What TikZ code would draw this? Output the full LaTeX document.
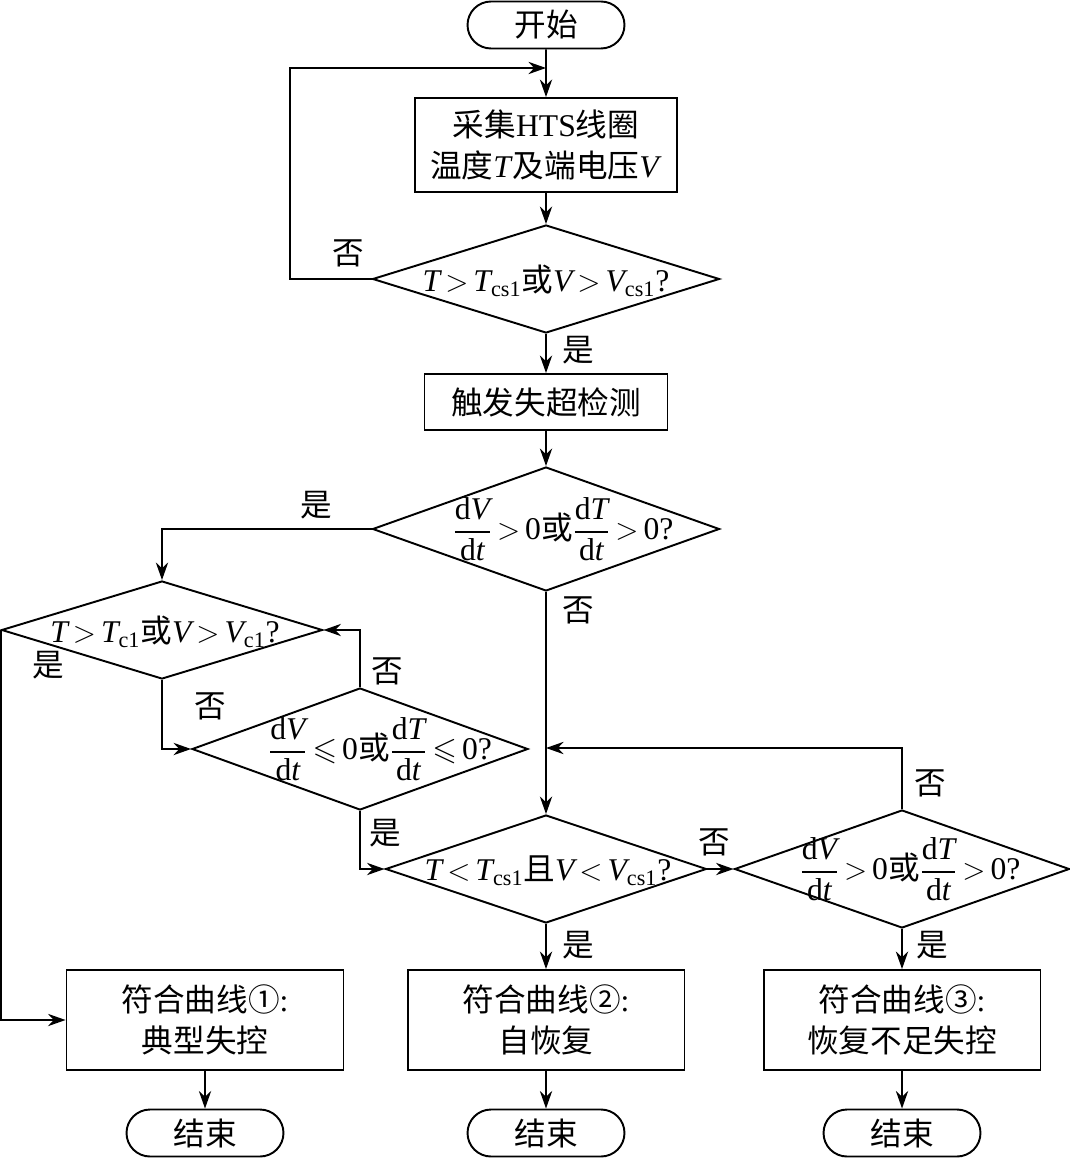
\documentclass[tikz,border=0pt]{standalone}
\usepackage{amsmath}
\usepackage{amssymb}
\usepackage{fontspec}
\setmainfont{Liberation Serif}
\setmathrm{Liberation Serif}
\newfontfamily\cjk{Noto Sans CJK SC}
\usetikzlibrary{shapes.geometric, shapes.misc, arrows.meta}

\newcommand{\ivar}[1]{\textrm{\itshape #1}}
\newcommand{\gtr}{\mskip-2mu>\mskip-2mu}
\newcommand{\lss}{\mskip-2mu<\mskip-2mu}

\begin{document}
\begin{tikzpicture}[x=0.02cm, y=-0.02cm, line width=1.1pt, >={Stealth[length=10pt,width=7pt]}]

        % Define styles
        \tikzstyle{terminal} = [rounded rectangle, draw, minimum width=3.14cm, minimum height=0.94cm, inner sep=0pt, font=\cjk\fontsize{18}{22}\selectfont]
        \tikzstyle{block} = [rectangle, draw, align=center, inner sep=0pt, font=\cjk\fontsize{18}{23}\selectfont]
        \tikzstyle{decision} = [diamond, draw, inner sep=0pt]
        \tikzstyle{cond} = [inner sep=0pt, font=\cjk\fontsize{18}{22}\selectfont]
        \tikzstyle{tag} = [inner sep=0pt, font=\cjk\fontsize{18}{22}\selectfont]
        \tikzstyle{line} = [draw, ->]

        \useasboundingbox (0,0) rectangle (1070,1158);

        % Place nodes
        \node [terminal] (start) at (546,25) {开始};
        \node [block, minimum width=5.24cm, minimum height=1.88cm] (collect) at (546,145)
            {采集\textrm{HTS}线圈\\温度\ivar{T}及端电压\ivar{V}};
        \node [decision, minimum width=6.94cm, minimum height=2.16cm] (over) at (546,279) {};
        \node [cond] (overtext) at (546,281)
            {$\ivar{T}\gtr\ivar{T}_{\mathrm{cs1}}$或$\ivar{V}\gtr\ivar{V}_{\mathrm{cs1}}$\textrm{?}};
        \node [block, minimum width=4.86cm, minimum height=1.12cm] (detect) at (546,402) {触发失超检测};
        \node [decision, minimum width=6.94cm, minimum height=2.48cm] (rise) at (546,529) {};
        \node [cond] (risetext) at (563,529)
            {$\dfrac{\mathrm{d}\ivar{V}}{\mathrm{d}\ivar{t}}\gtr\textrm{0}$或$\dfrac{\mathrm{d}\ivar{T}}{\mathrm{d}\ivar{t}}\gtr\textrm{0}$\textrm{?}};

        \node [decision, minimum width=6.42cm, minimum height=1.96cm] (crit) at (162,630) {};
        \node [cond] (crittext) at (165,632)
            {$\ivar{T}\gtr\ivar{T}_{\mathrm{c1}}$或$\ivar{V}\gtr\ivar{V}_{\mathrm{c1}}$\textrm{?}};
        \node [decision, minimum width=6.72cm, minimum height=2.44cm] (fall) at (360,749) {};
        \node [cond] (falltext) at (380,749)
            {$\dfrac{\mathrm{d}\ivar{V}}{\mathrm{d}\ivar{t}}\mskip-2mu\leqslant\mskip-2mu\textrm{0}$或$\dfrac{\mathrm{d}\ivar{T}}{\mathrm{d}\ivar{t}}\mskip-2mu\leqslant\mskip-2mu\textrm{0}$\textrm{?}};

        \node [decision, minimum width=6.42cm, minimum height=2.16cm] (back) at (546,869) {};
        \node [cond] (backtext) at (548,871)
            {$\ivar{T}\lss\ivar{T}_{\mathrm{cs1}}$且$\ivar{V}\lss\ivar{V}_{\mathrm{cs1}}$\textrm{?}};
        \node [decision, minimum width=6.7cm, minimum height=2.36cm] (again) at (902,869) {};
        \node [cond] (againtext) at (910,869)
            {$\dfrac{\mathrm{d}\ivar{V}}{\mathrm{d}\ivar{t}}\gtr\textrm{0}$或$\dfrac{\mathrm{d}\ivar{T}}{\mathrm{d}\ivar{t}}\gtr\textrm{0}$\textrm{?}};

        \node [block, minimum width=5.54cm, minimum height=2cm] (curve1) at (205,1020) {符合曲线①\textrm{:}\\典型失控};
        \node [block, minimum width=5.54cm, minimum height=2cm] (curve2) at (546,1020) {符合曲线②\textrm{:}\\自恢复};
        \node [block, minimum width=5.54cm, minimum height=2cm] (curve3) at (902,1020) {符合曲线③\textrm{:}\\恢复不足失控};
        \node [terminal] (end1) at (205,1133) {结束};
        \node [terminal] (end2) at (546,1133) {结束};
        \node [terminal] (end3) at (902,1133) {结束};

        \coordinate (loopin) at (546,68);
        \coordinate (join) at (546,748);

        % Yes / no tags
        \node [tag] (overno) at (348,253) {否};
        \node [tag] (overyes) at (578,350) {是};
        \node [tag] (riseyes) at (316,505) {是};
        \node [tag] (riseno) at (578,610) {否};
        \node [tag] (crityes) at (48,665) {是};
        \node [tag] (critno) at (210,706) {否};
        \node [tag] (fallno) at (387,671) {否};
        \node [tag] (fallyes) at (385,833) {是};
        \node [tag] (backno) at (714,842) {否};
        \node [tag] (againno) at (930,783) {否};
        \node [tag] (backyes) at (578,945) {是};
        \node [tag] (againyes) at (932,945) {是};

        % Draw edges
        \path [line] (start) -- (collect);
        \path [line] (over.west) -- ++(-82,0) |- (loopin);
        \path [line] (collect) -- (over);
        \path [line] (over) -- (detect);
        \path [line] (detect) -- (rise);
        \path [line] (rise.west) -| (crit.north);
        \path [line] (rise.south) -- (back.north);
        \path [line] (crit.west) |- (curve1.west);
        \path [line] (crit.south) |- (fall.west);
        \path [line] (fall.north) |- (crit.east);
        \path [line] (fall.south) |- (back.west);
        \path [line] (back.east) -- (again.west);
        \path [line] (again.north) |- (join);
        \path [line] (back.south) -- (curve2);
        \path [line] (again.south) -- (curve3);

        % Ends
        \path [line] (curve1) -- (end1);
        \path [line] (curve2) -- (end2);
        \path [line] (curve3) -- (end3);

    \end{tikzpicture}
\end{document}
